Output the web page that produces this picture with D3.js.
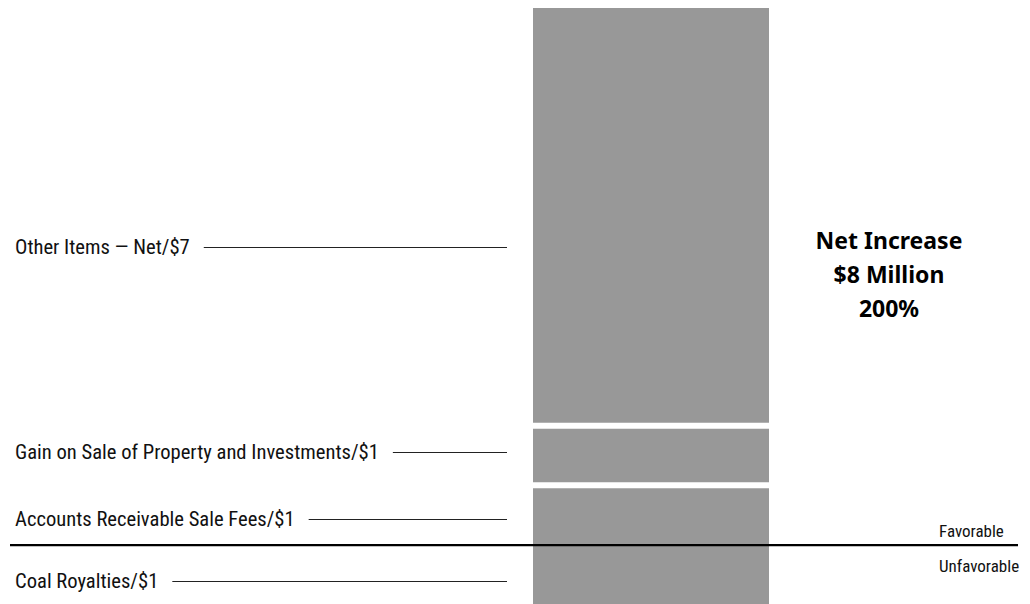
<!DOCTYPE html>
<html><head><meta charset="utf-8"><script src="https://cdn.jsdelivr.net/npm/d3@7"></script>
<style>body{margin:0;background:#fff}</style></head>
<body><svg id="chart" width="1030" height="604"></svg>
<script>
// ---- data ----
const categories = ["Coal Royalties", "Accounts Receivable Sale Fees", "Gain on Sale of Property and Investments", "Other Items — Net"];
const values = [-1, 1, 1, 7];            // $ millions (negative = unfavorable)
const labelAt = [-0.6, 0.44, 1.56, 5];   // value position of each leader label
const netTitle = ["Net Increase", "$8 Million", "200%"];
const netAt = 4.39;
const sideLabels = ["Favorable", "Unfavorable"];

// ---- layout ----
const W = 1030, H = 604;
const svg = d3.select("#chart");
const y = d3.scaleLinear().domain([-1, 9]).range([604.7, 8]);
const barX0 = 533, barX1 = 769;

// stack: positives upward from 0, negatives downward from 0
let pos = 0, neg = 0;
const segs = values.map((v, i) => {
  let a, b;
  if (v >= 0) { a = pos; b = pos + v; pos = b; } else { a = neg + v; b = neg; neg = a; }
  return { cat: categories[i], v, a, b, la: labelAt[i] };
});

svg.append("g").selectAll("rect").data(segs).join("rect")
  .attr("x", barX0).attr("width", barX1 - barX0)
  .attr("y", d => y(d.b)).attr("height", d => y(d.a) - y(d.b))
  .attr("fill", "#989898");

// white separators between positive segments
const seps = segs.filter(d => d.v > 0 && d.a > 0).map(d => d.a);
svg.append("g").selectAll("line").data(seps).join("line")
  .attr("x1", barX0).attr("x2", barX1)
  .attr("y1", d => y(d)).attr("y2", d => y(d))
  .attr("stroke", "#fff").attr("stroke-width", 6);

// leader labels
const lab = svg.append("g").selectAll("g").data(segs).join("g");
lab.append("text")
  .attr("x", 15).attr("y", d => y(d.la)).attr("dy", "0.35em")
  .style("font-family", "'Roboto Condensed', 'Liberation Sans', sans-serif")
  .style("font-size", "20.6px").attr("fill", "#111")
  .text(d => `${d.cat}/$${Math.abs(d.v)}`)
  .each(function (d) { d.tw = this.getComputedTextLength(); });
lab.append("line")
  .attr("x1", d => 15 + d.tw + 14).attr("x2", 507)
  .attr("y1", d => Math.round(y(d.la)) + 0.5).attr("y2", d => Math.round(y(d.la)) + 0.5)
  .attr("stroke", "#222").attr("stroke-width", 1.2);

// baseline
svg.append("line").attr("x1", 10).attr("x2", 1018)
  .attr("y1", y(0)).attr("y2", y(0))
  .attr("stroke", "#000").attr("stroke-width", 2.2);

// favorable / unfavorable
svg.append("g").selectAll("text").data(sideLabels).join("text")
  .attr("x", 939).attr("y", (d, i) => i === 0 ? y(0) - 8 : y(0) + 27)
  .style("font-family", "'Roboto Condensed', 'Liberation Sans', sans-serif")
  .style("font-size", "17px").attr("fill", "#111")
  .text(d => d);

// net increase title
svg.append("text").attr("x", 889).attr("y", y(netAt))
  .attr("text-anchor", "middle")
  .style("font-family", "'Noto Sans', sans-serif").style("font-weight", "bold")
  .style("font-size", "23px").attr("fill", "#000")
  .selectAll("tspan").data(netTitle).join("tspan")
  .attr("x", 889).attr("y", (d, i) => y(netAt) + (i - 1) * 34)
  .text(d => d);
</script></body></html>
